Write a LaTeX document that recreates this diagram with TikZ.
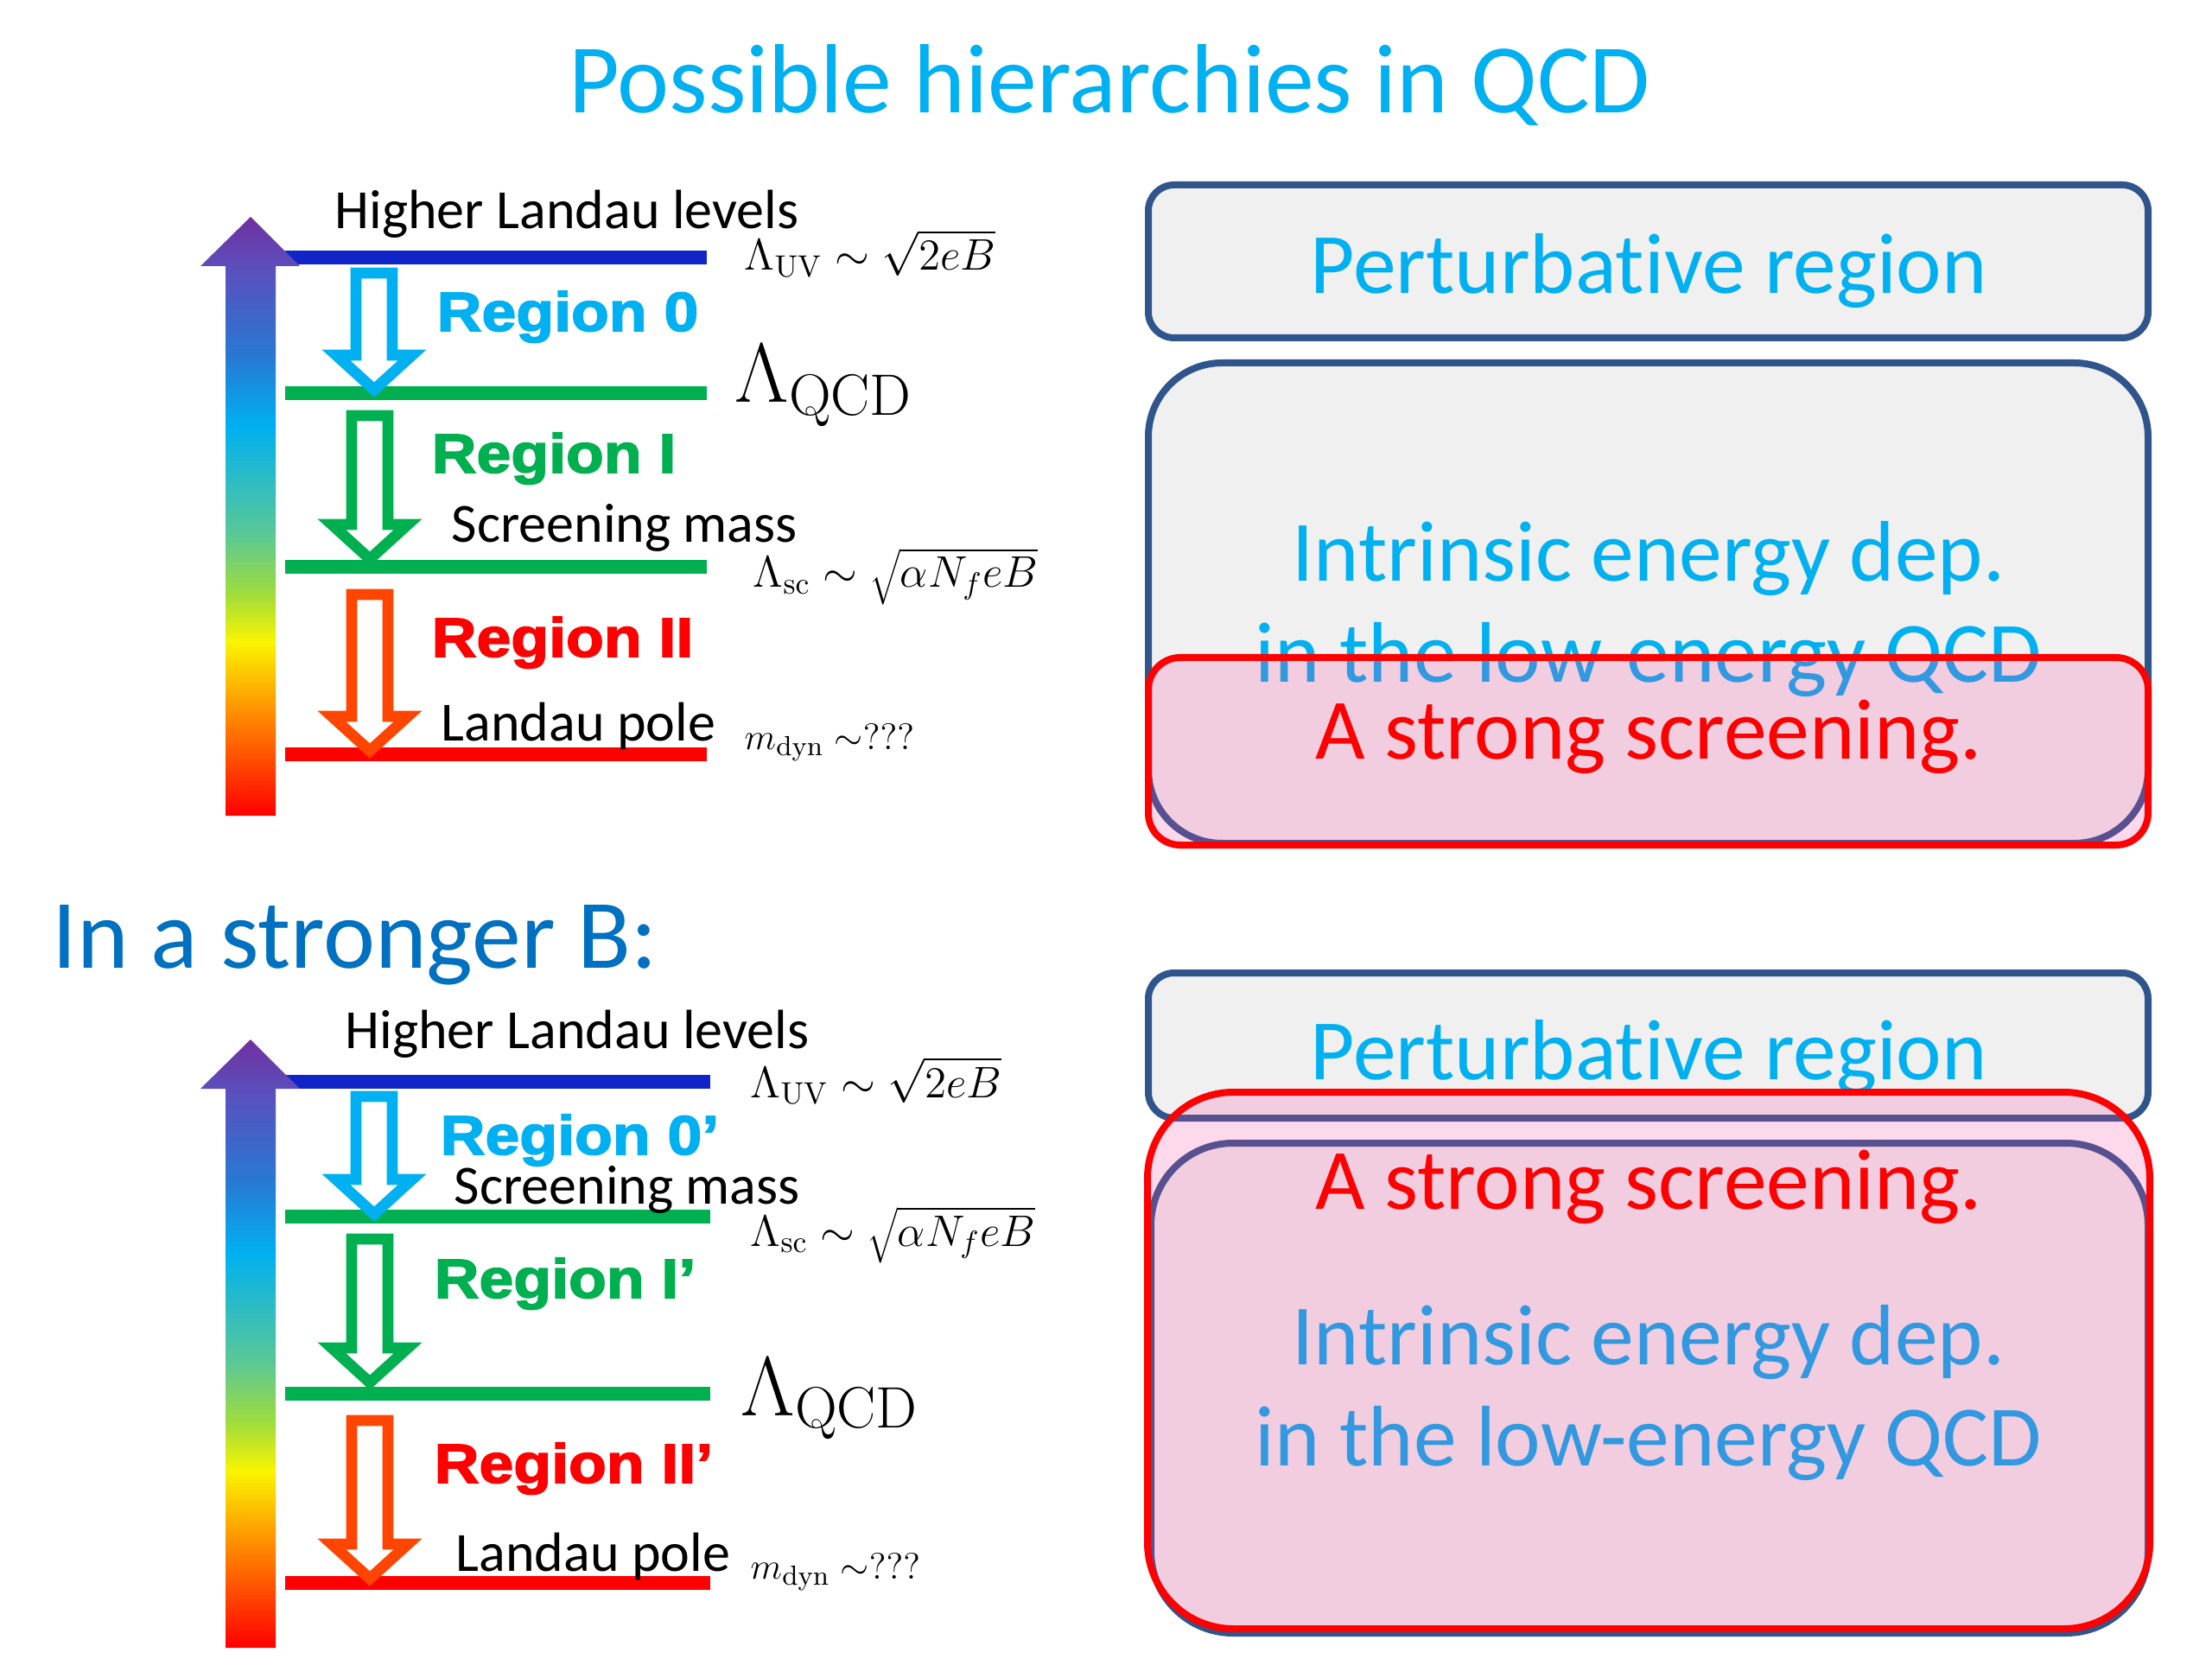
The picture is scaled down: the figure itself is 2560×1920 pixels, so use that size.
\documentclass[tikz,border=0pt]{standalone}
\usepackage[no-math]{fontspec}
\setmainfont{Carlito}[Ligatures=NoCommon]
\newfontfamily\regionfont{Liberation Sans}[BoldFeatures={FakeStretch=1.12,FakeBold=2.5}]
\definecolor{titlecyan}{RGB}{0,176,240}
\definecolor{subblue}{RGB}{0,112,192}
\definecolor{regiongreen}{RGB}{0,176,80}
\definecolor{regionred}{RGB}{255,0,0}
\definecolor{arroworange}{RGB}{255,69,0}
\definecolor{levelblue}{RGB}{16,36,200}
\definecolor{panelgray}{RGB}{240,240,240}
\definecolor{panelborder}{RGB}{47,85,140}
\definecolor{screenpink}{RGB}{250,65,160}
\definecolor{barred}{RGB}{255,0,0}
\definecolor{barorange}{RGB}{255,140,0}
\definecolor{baryellow}{RGB}{250,245,0}
\definecolor{barlime}{RGB}{160,220,60}
\definecolor{barteal}{RGB}{90,200,150}
\definecolor{barcyan}{RGB}{0,176,240}
\definecolor{barblue}{RGB}{40,120,210}
\definecolor{barviolet}{RGB}{90,80,190}
\definecolor{barpurple}{RGB}{112,48,160}
\pgfdeclareverticalshading{energybar}{100bp}{color(0bp)=(barred); color(25bp)=(barred);
  color(33.5bp)=(barorange); color(39.5bp)=(baryellow); color(43.5bp)=(barlime);
  color(48.5bp)=(barteal); color(57.5bp)=(barcyan); color(63.5bp)=(barblue);
  color(70.5bp)=(barviolet); color(75bp)=(barpurple); color(100bp)=(barpurple)}

\begin{document}
\begin{tikzpicture}[x=0.28125pt, y=-0.28125pt,
  levelline/.style={line width=4.5pt},
  hollowarrow/.style={draw=#1, fill=white, line width=3.6pt},
  panel/.style={draw=panelborder, fill=panelgray, line width=2.25pt},
  screenbox/.style={draw=regionred, fill=screenpink, fill opacity=0.2, draw opacity=1, line width=2.25pt},
  headline/.style={font=\fontsize{32}{38}\selectfont, anchor=base, inner sep=0pt},
  boxtext/.style={font=\fontsize{28}{33}\selectfont, anchor=base, inner sep=0pt},
  levelnote/.style={font=\fontsize{18}{22}\selectfont, anchor=base west, inner sep=0pt},
  regionlabel/.style={font=\regionfont\bfseries\fontsize{18}{22}\selectfont, anchor=base west, inner sep=0pt},
  scalelabel/.style={font=\fontsize{14}{17}\selectfont, anchor=base west, inner sep=0pt},
  qcdlabel/.style={font=\fontsize{25}{30}\selectfont, anchor=base west, inner sep=0pt, scale=1.1, transform shape}
]
  \useasboundingbox (0,0) rectangle (2560,1920);
  \fill[white] (0,0) rectangle (2560,1920);

  \node[headline, text=titlecyan] (title) at (1284,131) {Possible hierarchies in QCD};

  % --- weak field: energy scales
  \draw[levelline, levelblue] (330,298) -- (818,298);
  \draw[levelline, regiongreen] (330,455) -- (818,455);
  \draw[levelline, regiongreen] (330,656) -- (818,656);
  \draw[levelline, regionred] (330,873) -- (818,873);
  \shade[shading=energybar] (261,944) -- (261,308) -- (232,308) -- (290,251) -- (347,308)
    -- (319,308) -- (319,944) -- cycle;
  \draw[hollowarrow=titlecyan] (412,316) -- (454,316) -- (454,411) -- (477,411) -- (433,451)
    -- (389,411) -- (412,411) -- cycle;
  \draw[hollowarrow=regiongreen] (407,481) -- (449,481) -- (449,607) -- (472,607) -- (428,647)
    -- (384,607) -- (407,607) -- cycle;
  \draw[hollowarrow=arroworange] (407,688) -- (449,688) -- (449,829) -- (472,829) -- (428,869)
    -- (384,829) -- (407,829) -- cycle;

  \node[levelnote] (hllA) at (387,265) {Higher Landau levels};
  \node[regionlabel, text=titlecyan] (regA0) at (505,383) {Region 0};
  \node[regionlabel, text=regiongreen] (regA1) at (499,547) {Region I};
  \node[levelnote] (scrA) at (522,628) {Screening mass};
  \node[regionlabel, text=regionred] (regA2) at (499,760) {Region II};
  \node[levelnote] (poleA) at (510,857) {Landau pole};
  \node[scalelabel] (uvA) at (861,313) {$\Lambda_{\mathrm{UV}}\sim\sqrt{2eB}$};
  \node[qcdlabel] (qcdA) at (850,466) {$\Lambda_{\mathrm{QCD}}$};
  \node[scalelabel] (scA) at (871,680) {$\Lambda_{\mathrm{sc}}\sim\sqrt{\alpha N_feB}$};
  \node[scalelabel, font=\fontsize{12.5}{15}\selectfont] (dynA) at (861,867) {$m_{\mathrm{dyn}}\;{\sim}\mathrm{???}$};

  % --- weak field: regions
  \draw[panel, rounded corners=8.4pt] (1329,214) rectangle (2486,391);
  \draw[panel, rounded corners=24pt] (1329,420) rectangle (2486,976);
  \node[boxtext, text=titlecyan] (pertA) at (1908,340) {Perturbative region};
  \node[boxtext, text=titlecyan] (intrA) at (1908,673) {Intrinsic energy dep.};
  \node[boxtext, text=titlecyan] (lowA) at (1908,790) {in the low-energy QCD};
  \draw[screenbox, rounded corners=10.4pt] (1329,761) rectangle (2486,978);
  \node[boxtext, text=regionred] (strongA) at (1908,879) {A strong screening.};

  \node[headline, anchor=base west, text=subblue] (stronger) at (60,1120) {In a stronger B:};

  % --- strong field: energy scales
  \draw[levelline, levelblue] (330,1252) -- (822,1252);
  \draw[levelline, regiongreen] (330,1408) -- (822,1408);
  \draw[levelline, regiongreen] (330,1613) -- (822,1613);
  \draw[levelline, regionred] (330,1832) -- (822,1832);
  \shade[shading=energybar] (261,1907) -- (261,1260) -- (232,1260) -- (290,1203) -- (347,1260)
    -- (319,1260) -- (319,1907) -- cycle;
  \draw[hollowarrow=titlecyan] (412,1269) -- (454,1269) -- (454,1365) -- (477,1365) -- (433,1405)
    -- (389,1365) -- (412,1365) -- cycle;
  \draw[hollowarrow=regiongreen] (407,1434) -- (449,1434) -- (449,1560) -- (472,1560) -- (428,1600)
    -- (384,1560) -- (407,1560) -- cycle;
  \draw[hollowarrow=arroworange] (407,1644) -- (449,1644) -- (449,1787) -- (472,1787) -- (428,1827)
    -- (384,1787) -- (407,1787) -- cycle;

  \node[levelnote] (hllB) at (399,1213) {Higher Landau levels};
  \node[regionlabel, text=titlecyan] (regB0) at (509,1336) {Region 0’};
  \node[levelnote] (scrB) at (525,1393) {Screening mass};
  \node[regionlabel, text=regiongreen] (regB1) at (502,1502) {Region I’};
  \node[regionlabel, text=regionred] (regB2) at (502,1716) {Region II’};
  \node[levelnote] (poleB) at (527,1818) {Landau pole};
  \node[scalelabel] (uvB) at (868,1270) {$\Lambda_{\mathrm{UV}}\sim\sqrt{2eB}$};
  \node[scalelabel] (scB) at (868,1442) {$\Lambda_{\mathrm{sc}}\sim\sqrt{\alpha N_feB}$};
  \node[qcdlabel] (qcdB) at (857,1638) {$\Lambda_{\mathrm{QCD}}$};
  \node[scalelabel, font=\fontsize{12.5}{15}\selectfont] (dynB) at (868,1827) {$m_{\mathrm{dyn}}\;{\sim}\mathrm{???}$};

  % --- strong field: regions
  \draw[panel, rounded corners=8.4pt] (1329,1126) rectangle (2486,1294);
  \draw[panel, rounded corners=26.7pt] (1332,1323) rectangle (2486,1890);
  \node[boxtext, text=titlecyan] (pertB) at (1908,1249) {Perturbative region};
  \node[boxtext, text=titlecyan] (intrB) at (1908,1579) {Intrinsic energy dep.};
  \node[boxtext, text=titlecyan] (lowB) at (1908,1696) {in the low-energy QCD};
  \draw[screenbox, rounded corners=28pt] (1328,1264) rectangle (2488,1885);
  \node[boxtext, text=regionred] (strongB) at (1908,1399) {A strong screening.};
\end{tikzpicture}
\end{document}
